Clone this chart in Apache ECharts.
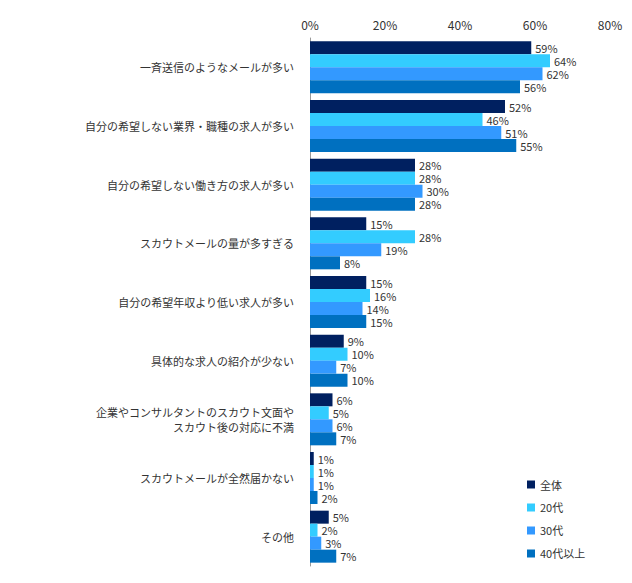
<!DOCTYPE html>
<html>
<head>
<meta charset="utf-8">
<script src="https://cdn.jsdelivr.net/npm/echarts@6/dist/echarts.min.js"></script>
<style>html,body{margin:0;padding:0;background:#fff}#c{width:632px;height:583px}</style>
</head>
<body>
<div id="c"></div>
<script>
const categories = ['一斉送信のようなメールが多い', '自分の希望しない業界・職種の求人が多い', '自分の希望しない働き方の求人が多い',
	'スカウトメールの量が多すぎる', '自分の希望年収より低い求人が多い', '具体的な求人の紹介が少ない',
	'企業やコンサルタントのスカウト文面や\nスカウト後の対応に不満', 'スカウトメールが全然届かない', 'その他'];
const seriesNames = ['全体', '20代', '30代', '40代以上'];
const colors = ['#002060', '#33CCFF', '#3399FF', '#0070C0'];
const all = [59, 52, 28, 15, 15, 9, 6, 1, 5];
const age20 = [64, 46, 28, 28, 16, 10, 5, 1, 2];
const age30 = [62, 51, 30, 19, 14, 7, 6, 1, 3];
const age40 = [56, 55, 28, 8, 15, 10, 7, 2, 7];
const values = [all, age20, age30, age40];

const chart = echarts.init(document.getElementById('c'), null, {renderer: 'svg'});
chart.setOption({
	animation: false,
	color: colors,
	textStyle: {fontFamily: '"Noto Sans CJK JP", sans-serif'},
	grid: {left: 310, right: 22, top: 38, bottom: 17},
	legend: {
		orient: 'vertical', left: 522, top: 474, itemWidth: 8, itemHeight: 8, itemGap: 12,
		icon: 'rect', textStyle: {fontSize: 11, color: '#333'}, data: seriesNames
	},
	xAxis: {
		type: 'value', position: 'top', min: 0, max: 80, interval: 20,
		axisLabel: {formatter: '{value}%', fontSize: 12, color: '#333'},
		axisLine: {show: false}, axisTick: {show: false}, splitLine: {show: false}
	},
	yAxis: {
		type: 'category', inverse: true, data: categories,
		axisLine: {show: true, lineStyle: {color: '#999'}}, axisTick: {show: false},
		axisLabel: {fontSize: 11, color: '#333', margin: 16, lineHeight: 15}
	},
	series: seriesNames.map((name, i) => ({
		name: name, type: 'bar', data: values[i], barWidth: 13, barGap: '0%',
		label: {show: true, position: 'right', formatter: '{c}%', fontSize: 11, color: '#333', distance: 4}
	}))
});
</script>
</body>
</html>
